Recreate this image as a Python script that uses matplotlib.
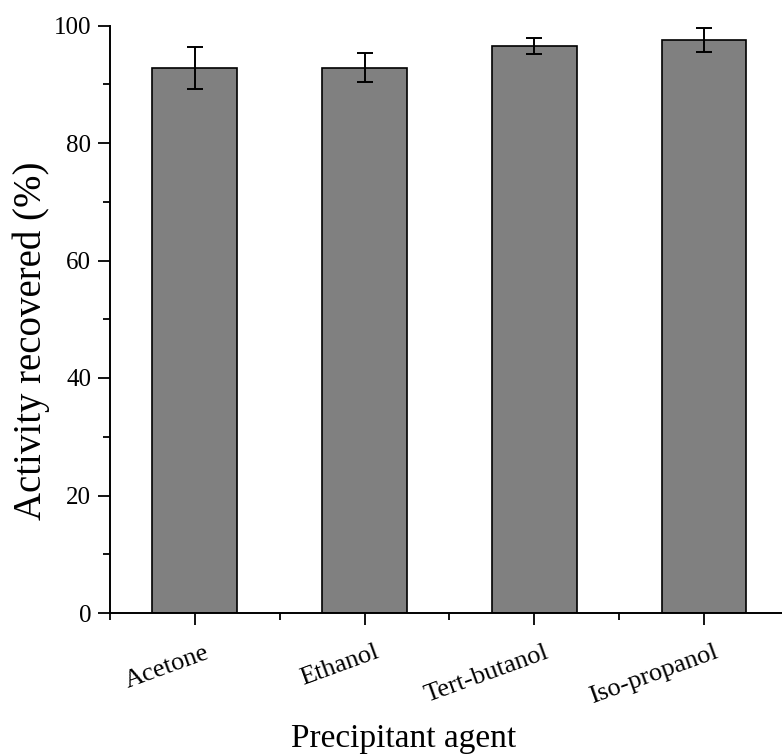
import numpy as np
import matplotlib.pyplot as plt
from matplotlib.ticker import MultipleLocator
from matplotlib.transforms import ScaledTranslation

plt.rcParams['font.family'] = ['Liberation Serif', 'DejaVu Serif']

# Данные: осадитель, восстановленная активность и погрешность
agents = ['Acetone', 'Ethanol', 'Tert-butanol', 'Iso-propanol']
activity = [92.8, 92.8, 96.5, 97.5]
errors = [3.6, 2.5, 1.4, 2.0]

x = np.arange(1, len(agents) + 1)

fig = plt.figure(figsize=(7.82, 7.55), dpi=100)
ax = fig.add_axes([110 / 782, 142 / 755, 1 - 110 / 782, 587.5 / 755])

ax.bar(x, activity, width=0.5, color='#808080', edgecolor='black',
       linewidth=1.2, yerr=errors, capsize=5.5,
       error_kw=dict(elinewidth=1.4, capthick=1.4, ecolor='black'))

ax.set_xlim(0.5, 4.46)
ax.set_ylim(0, 100)

# Оформление осей
ax.spines['top'].set_visible(False)
ax.spines['right'].set_visible(False)
ax.spines['left'].set_linewidth(1.4)
ax.spines['bottom'].set_linewidth(1.4)

ax.yaxis.set_major_locator(MultipleLocator(20))
ax.yaxis.set_minor_locator(MultipleLocator(10))
ax.xaxis.set_minor_locator(MultipleLocator(1, offset=0.5))
ax.set_xticks(x)
ax.set_xticklabels(agents, rotation=20, ha='right', va='top')
ax.tick_params(which='major', direction='out', length=8.5, width=1.3,
               labelsize=18, pad=5)
ax.tick_params(which='minor', direction='out', length=5, width=1.3)
ax.tick_params(axis='x', which='major', pad=12, labelsize=19)

# Сдвиг подписей категорий вправо
for lbl in ax.get_xticklabels():
    lbl.set_transform(lbl.get_transform() +
                      ScaledTranslation(17 / 100, 0, fig.dpi_scale_trans))

fig.text(31 / 782, 1 - 341 / 755, 'Activity recovered (%)', fontsize=28,
         rotation=90, ha='center', va='center')
fig.text(404 / 782, 8 / 755, 'Precipitant agent', fontsize=24,
         ha='center', va='baseline')

fig.savefig('out.png', dpi=100)
